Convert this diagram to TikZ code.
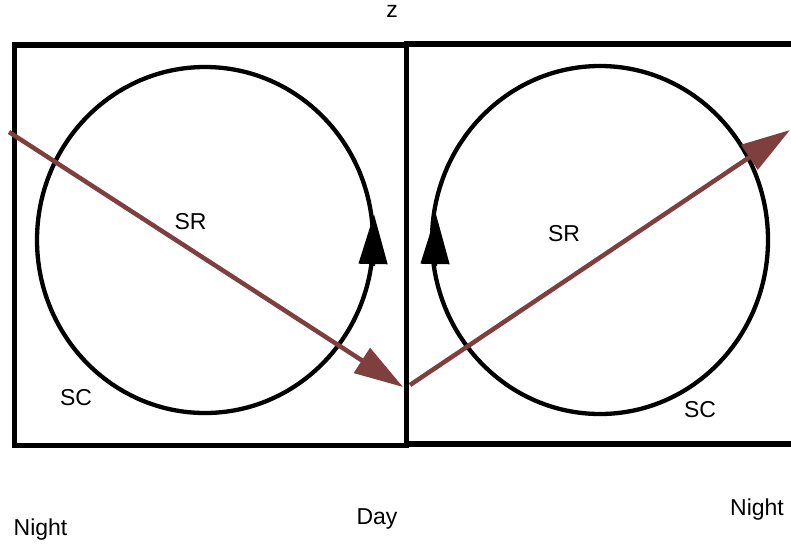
\documentclass[tikz,border=0pt]{standalone}
\usepackage{fontspec}
\setmainfont{Liberation Sans}
\usetikzlibrary{arrows.meta}
\definecolor{arrowred}{RGB}{127,63,63}
\begin{document}
\begin{tikzpicture}[x=1pt,y=-1pt,
  boxline/.style={line width=5.5pt, black},
  orbit/.style={line width=4.3pt, black},
  redarrow/.style={line width=4.5pt, arrowred, -{Triangle[length=49pt,width=29pt]}},
  orbitarrow/.style={line width=4.3pt, black, -{Triangle[length=50pt,width=28pt]}},
  lbl/.style={anchor=base, inner sep=0pt, font=\fontsize{23}{27}\selectfont}]
\useasboundingbox (0,0) rectangle (791,544);
\clip (0,0) rectangle (791,544);
% boxes
\draw[boxline] (14.5,45) rectangle (406.5,445.5);
\draw[boxline] (406.5,44) rectangle (820,444);
% orbits
\draw[orbit] (205,240) ellipse [x radius=168, y radius=173];
\draw[orbit] (600,240) ellipse [x radius=168, y radius=174];
% orbit direction arrows
\coordinate (o1s) at (373,266);
\coordinate (o1e) at (374,214);
\coordinate (o2s) at (435,266);
\coordinate (o2e) at (436,214);
\draw[orbitarrow] (o1s) -- (o1e);
\draw[orbitarrow] (o2s) -- (o2e);
% red arrows
\coordinate (a1s) at (9,132);
\coordinate (mid) at (403,387);
\coordinate (a2s) at (410,385);
\coordinate (a2e) at (790,130);
\draw[redarrow] (a1s) -- (mid);
\draw[redarrow] (a2s) -- (a2e);
% labels
\node[lbl] (z) at (392,17) {z};
\node[lbl] (sr1) at (190.5,229) {SR};
\node[lbl] (sc1) at (76,405) {SC};
\node[lbl] (sr2) at (564,241) {SR};
\node[lbl] (sc2) at (700,417) {SC};
\node[lbl] (night1) at (40.5,535) {Night};
\node[lbl] (day) at (377,524) {Day};
\node[lbl] (night2) at (757,515) {Night};
\end{tikzpicture}
\end{document}
